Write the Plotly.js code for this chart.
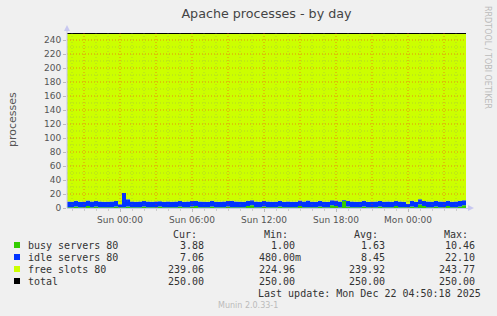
<!DOCTYPE html>
<html>
<head>
<meta charset="utf-8">
<script src="https://cdn.plot.ly/plotly-3.0.1.min.js"></script>
<style>html,body{margin:0;padding:0;background:#F0F0F0;}#chart{width:497px;height:316px;}</style>
</head>
<body>
<div id="chart"></div>
<script>
// ---- data (20-minute samples, starting Sat 2025-12-20 19:30) ----
const startTime = '2025-12-20T19:30:00';
const stepMinutes = 20;
const busyServers = [
  1,1,2,1,1,3,1,2,1,1,
  1,1,2,1,1,2,1,1,1,2,
  1,1,1,2,1,1,1,1,2,1,
  1,2,3,1,1,1,2,1,1,1,
  2,1,1,1,1,3,4,1,1,2,
  1,1,1,2,1,1,1,1,3,1,
  1,1,1,2,1,1,4,3,1,10.46,
  2,1,1,1,2,1,1,1,2,1,
  1,1,3,1,1,1,2,1,5,3,
  1,1,2,1,1,3,1,1,2,3.88
];
const idleServers = [
  8.2,8.0,8.4,8.1,8.0,7.6,8.3,8.0,8.2,8.1,
  8.0,8.3,8.1,4.5,20.5,10.5,8.2,8.0,8.4,8.1,
  8.2,8.0,8.3,7.8,8.1,8.2,8.0,8.3,7.9,8.1,
  8.2,8.0,7.5,8.2,8.1,8.0,8.3,8.1,8.0,8.2,
  8.0,9.5,8.2,8.1,8.0,7.2,7.0,8.2,8.1,8.0,
  8.2,8.1,8.0,8.3,8.1,8.2,8.0,8.1,7.8,8.2,
  9.8,8.1,8.0,8.2,8.1,8.0,7.0,7.6,8.3,1.0,
  8.0,8.3,8.1,8.0,8.2,8.1,8.0,8.3,8.1,8.0,
  8.2,8.1,7.0,8.2,8.1,5.0,8.2,8.0,7.5,7.0,
  8.3,8.1,8.0,8.2,8.1,7.2,8.0,8.2,7.9,7.06
];
const totalSlots = 250;

const legendNames = ['busy servers 80', 'idle servers 80', 'free slots 80', 'total'];
const legendColors = ['#33CC00', '#0033FF', '#CCFF00', '#000000'];
const statHeaders = ['Cur:', 'Min:', 'Avg:', 'Max:'];
const curValues = ['3.88', '7.06', '239.06', '250.00'];
const minValues = ['1.00', '480.00m', '224.96', '250.00'];
const avgValues = ['1.63', '8.45', '239.92', '250.00'];
const maxValues = ['10.46', '22.10', '243.77', '250.00'];
const lastUpdate = 'Last update: Mon Dec 22 04:50:18 2025';
const yTickValues = [0, 20, 40, 60, 80, 100, 120, 140, 160, 180, 200, 220, 240];

// ---- build ----
function fmt(d) {
  const p = n => String(n).padStart(2, '0');
  return d.getFullYear() + '-' + p(d.getMonth() + 1) + '-' + p(d.getDate()) + ' ' + p(d.getHours()) + ':' + p(d.getMinutes());
}
const t0 = new Date(startTime);
const times = [];
for (let i = 0; i <= busyServers.length; i++) times.push(fmt(new Date(t0.getTime() + i * stepMinutes * 60000)));
const withEnd = a => a.concat([a[a.length - 1]]);
const busyY = withEnd(busyServers);
const idleTop = withEnd(busyServers.map((b, i) => b + idleServers[i]));
const totalY = times.map(() => totalSlots);

const PL = 67, PR = 466, PT = 33, PB = 208;
const px2x = px => (px - PL) / (PR - PL);
const px2y = py => (PB - py) / (PB - PT);

const traces = [
  {x: times, y: busyY, type: 'scatter', mode: 'lines', line: {width: 0, shape: 'hv'}, fill: 'tozeroy', fillcolor: legendColors[0], hoverinfo: 'skip'},
  {x: times, y: idleTop, type: 'scatter', mode: 'lines', line: {width: 0, shape: 'hv'}, fill: 'tonexty', fillcolor: legendColors[1], hoverinfo: 'skip'},
  {x: times, y: totalY, type: 'scatter', mode: 'lines', line: {width: 2, color: legendColors[3], shape: 'hv'}, fill: 'tonexty', fillcolor: legendColors[2], hoverinfo: 'skip'}
];

const xStart = '2025-12-20 19:35', xEnd = '2025-12-22 04:50';
const majorGrid = 'rgba(255,30,30,0.5)';
const minorGrid = 'rgba(128,128,128,0.32)';
const shapes = [];
// grid drawn above the areas (as rrdtool does)
for (let v = 10; v < 250; v += 10) {
  const major = v % 20 === 0;
  shapes.push({type: 'line', layer: 'above', xref: 'paper', yref: 'y', x0: 0, x1: 1, y0: v, y1: v,
    line: {color: major ? majorGrid : minorGrid, width: 1, dash: '1px,2px'}});
}
const gStart = new Date('2025-12-20T20:00:00');
const gEnd = new Date('2025-12-22T04:50:00');
for (let d = new Date(gStart); d < gEnd; d = new Date(d.getTime() + 3600000)) {
  const major = d.getHours() % 3 === 0;
  shapes.push({type: 'line', layer: 'above', xref: 'x', yref: 'paper', x0: fmt(d), x1: fmt(d), y0: 0, y1: 1,
    line: {color: major ? majorGrid : minorGrid, width: 1, dash: '1px,2px'}});
}
// axis arrows
shapes.push({type: 'path', xref: 'paper', yref: 'paper', layer: 'above',
  path: `M ${px2x(64)},${px2y(31)} L ${px2x(70)},${px2y(31)} L ${px2x(67)},${px2y(25)} Z`,
  fillcolor: '#C8C8F0', line: {width: 0}});
shapes.push({type: 'path', xref: 'paper', yref: 'paper', layer: 'above',
  path: `M ${px2x(468)},${px2y(205)} L ${px2x(468)},${px2y(211)} L ${px2x(474)},${px2y(208)} Z`,
  fillcolor: '#C8C8F0', line: {width: 0}});
shapes.push({type: 'line', xref: 'paper', yref: 'paper', x0: px2x(67), x1: px2x(468), y0: px2y(208.5), y1: px2y(208.5), line: {color: '#C8C8F0', width: 1}, layer: 'above'});
shapes.push({type: 'line', xref: 'paper', yref: 'paper', x0: px2x(67), x1: px2x(67), y0: px2y(208), y1: px2y(31), line: {color: '#C8C8F0', width: 1}, layer: 'above'});

const annotations = [];
const textColor = '#333333';
const mono = 'DejaVu Sans Mono';
// y-axis title
annotations.push({text: 'processes', xref: 'paper', yref: 'paper', x: px2x(12), y: px2y(120), textangle: -90,
  showarrow: false, xanchor: 'center', yanchor: 'middle', font: {family: 'DejaVu Sans', size: 11, color: '#555'}});
// rrdtool credit
annotations.push({text: 'RRDTOOL / TOBI OETIKER', xref: 'paper', yref: 'paper', x: px2x(488), y: px2y(57), textangle: 90,
  showarrow: false, xanchor: 'center', yanchor: 'middle', font: {family: 'DejaVu Sans', size: 8, color: '#BBBBBB'}});
// legend table
const rowY = [245, 257, 269, 281];
const colEnd = [206, 297, 387, 477];
const cols = [curValues, minValues, avgValues, maxValues];
statHeaders.forEach((h, c) => {
  annotations.push({text: h, xref: 'paper', yref: 'paper', x: px2x(colEnd[c] - 7), y: px2y(234), showarrow: false,
    xanchor: 'right', yanchor: 'middle', font: {family: mono, size: 10, color: textColor}});
});
legendNames.forEach((name, r) => {
  shapes.push({type: 'rect', xref: 'paper', yref: 'paper', x0: px2x(14), x1: px2x(20), y0: px2y(rowY[r] - 3), y1: px2y(rowY[r] + 3),
    fillcolor: legendColors[r], line: {width: 0}});
  annotations.push({text: name, xref: 'paper', yref: 'paper', x: px2x(26), y: px2y(rowY[r]), showarrow: false,
    xanchor: 'left', yanchor: 'middle', font: {family: mono, size: 10, color: textColor}});
  cols.forEach((col, c) => {
    const s = col[r];
    const hasUnit = /[a-zA-Z]$/.test(s);
    annotations.push({text: s, xref: 'paper', yref: 'paper', x: px2x(colEnd[c] + (hasUnit ? 6 : 0)), y: px2y(rowY[r]), showarrow: false,
      xanchor: 'right', yanchor: 'middle', font: {family: mono, size: 10, color: textColor}});
  });
});
annotations.push({text: lastUpdate, xref: 'paper', yref: 'paper', x: px2x(483), y: px2y(293), showarrow: false,
  xanchor: 'right', yanchor: 'middle', font: {family: mono, size: 10, color: textColor}});
annotations.push({text: 'Munin 2.0.33-1', xref: 'paper', yref: 'paper', x: px2x(248), y: px2y(305), showarrow: false,
  xanchor: 'center', yanchor: 'middle', font: {family: 'DejaVu Sans', size: 8, color: '#BBBBBB'}});

const layout = {
  width: 497, height: 316,
  margin: {l: PL, r: 497 - PR, t: PT, b: 316 - PB, pad: 0},
  paper_bgcolor: '#F0F0F0', plot_bgcolor: '#FFFFFF',
  showlegend: false,
  title: {text: 'Apache processes - by day', x: 0.5, xanchor: 'center', xref: 'paper', y: 1 - 14 / 316, yanchor: 'middle',
    font: {family: 'DejaVu Sans', size: 12.7, color: '#444'}},
  xaxis: {type: 'date', range: [xStart, xEnd], showgrid: false, zeroline: false, showline: false,
    tickmode: 'linear', tick0: '2025-12-21 00:00', dtick: 6 * 3600000, tickformat: '%a %H:%M',
    ticks: 'outside', ticklen: 3, tickcolor: '#BBBBBB',
    minor: {dtick: 3600000, ticks: 'outside', ticklen: 2, tickcolor: '#CCCCCC', showgrid: false},
    tickfont: {family: 'DejaVu Sans', size: 9, color: '#555'}, fixedrange: true},
  yaxis: {range: [0, 250], showgrid: false, zeroline: false, showline: false,
    tickmode: 'array', tickvals: yTickValues, ticktext: yTickValues.map(String),
    ticks: 'outside', ticklen: 3, tickcolor: '#BBBBBB',
    tickfont: {family: 'DejaVu Sans', size: 9, color: '#555'}, fixedrange: true},
  shapes: shapes,
  annotations: annotations
};

Plotly.newPlot('chart', traces, layout, {staticPlot: true, displayModeBar: false});
</script>
</body>
</html>
